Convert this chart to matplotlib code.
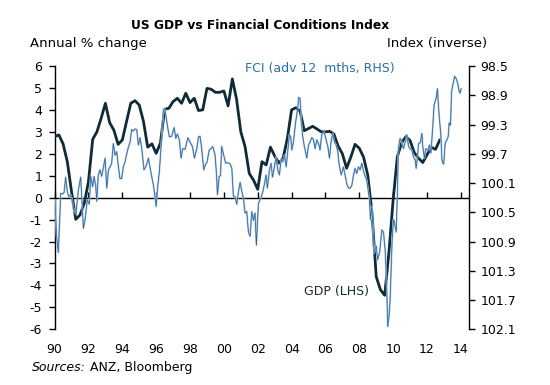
import numpy as np
import matplotlib.pyplot as plt

# US GDP, annual % change, quarterly from 1990Q1
gdp_start = 1990.0
gdp = [2.78, 2.86, 2.45, 1.64,
       0.27, -0.99, -0.79, -0.26,
       0.73, 2.66, 3.0, 3.62,
       4.3, 3.42, 3.08, 2.43,
       2.63, 3.47, 4.3, 4.42,
       4.22, 3.47, 2.3, 2.45,
       2.02, 2.48, 4.03, 4.07,
       4.38, 4.53, 4.3, 4.76,
       4.33, 4.53, 3.97, 4.0,
       4.98, 4.94, 4.8, 4.8,
       4.86, 4.18, 5.41, 4.48,
       3.0, 2.33, 1.1, 0.8,
       0.38, 1.64, 1.49, 2.3,
       1.9, 1.57, 1.8, 2.7,
       4.0, 4.1, 3.95, 3.05,
       3.15, 3.25, 3.13, 3.0,
       3.0, 3.02, 2.9, 2.35,
       2.0, 1.34, 1.85, 2.43,
       2.25, 1.85, 1.03, -0.7,
       -3.6, -4.2, -4.45, -2.5,
       -0.1, 1.87, 2.5, 2.78,
       2.6, 2.05, 1.8, 1.6,
       1.95, 2.3, 2.2, 2.62]
gdp_t = gdp_start + 0.25 * np.arange(len(gdp))

# Financial conditions index (advanced 12 months)
fci_t = [1990.02, 1990.12, 1990.22, 1990.30, 1990.36, 1990.48, 1990.56, 1990.65,
         1990.75, 1990.85, 1990.95, 1991.03, 1991.15, 1991.26, 1991.40, 1991.54,
         1991.70, 1991.80, 1991.93, 1992.05, 1992.13, 1992.25, 1992.33, 1992.43,
         1992.49, 1992.58, 1992.68, 1992.78, 1992.88, 1992.98, 1993.08, 1993.18,
         1993.27, 1993.37, 1993.47, 1993.57, 1993.67, 1993.77, 1993.86, 1993.96,
         1994.06, 1994.16, 1994.26, 1994.36, 1994.46, 1994.55, 1994.65, 1994.75,
         1994.85, 1994.95, 1995.05, 1995.15, 1995.28, 1995.40, 1995.54, 1995.70,
         1995.84, 1995.93, 1996.00, 1996.09, 1996.19, 1996.29, 1996.43, 1996.52,
         1996.66, 1996.78, 1996.92, 1997.06, 1997.16, 1997.25, 1997.37, 1997.47,
         1997.57, 1997.71, 1997.87, 1998.00, 1998.14, 1998.26, 1998.40, 1998.50,
         1998.59, 1998.69, 1998.81, 1998.91, 1999.01, 1999.13, 1999.24, 1999.34,
         1999.48, 1999.56, 1999.62, 1999.72, 1999.80, 1999.87, 1999.99, 2000.11,
         2000.23, 2000.37, 2000.47, 2000.56, 2000.66, 2000.76, 2000.86, 2000.96,
         2001.06, 2001.15, 2001.25, 2001.35, 2001.45, 2001.55, 2001.65, 2001.75,
         2001.84, 2001.92, 2002.04, 2002.10, 2002.20, 2002.30, 2002.40, 2002.49,
         2002.57, 2002.69, 2002.79, 2002.87, 2002.97, 2003.08, 2003.18, 2003.28,
         2003.38, 2003.48, 2003.58, 2003.68, 2003.77, 2003.87, 2003.95, 2004.01,
         2004.11, 2004.23, 2004.35, 2004.42, 2004.50, 2004.58, 2004.66, 2004.74,
         2004.84, 2004.90, 2005.00, 2005.09, 2005.19, 2005.29, 2005.39, 2005.49,
         2005.59, 2005.68, 2005.78, 2005.92, 2006.04, 2006.14, 2006.24, 2006.33,
         2006.43, 2006.53, 2006.63, 2006.73, 2006.81, 2006.93, 2007.06, 2007.16,
         2007.26, 2007.36, 2007.46, 2007.56, 2007.66, 2007.75, 2007.85, 2007.95,
         2008.05, 2008.15, 2008.25, 2008.35, 2008.44, 2008.54, 2008.60, 2008.66,
         2008.74, 2008.88, 2009.00, 2009.08, 2009.20, 2009.33, 2009.43, 2009.53,
         2009.62, 2009.68, 2009.76, 2009.82, 2009.88, 2009.94, 2010.02, 2010.08,
         2010.18, 2010.25, 2010.31, 2010.41, 2010.51, 2010.61, 2010.71, 2010.81,
         2010.91, 2011.00, 2011.10, 2011.20, 2011.30, 2011.36, 2011.44, 2011.50,
         2011.60, 2011.70, 2011.75, 2011.85, 2011.93, 2012.05, 2012.15, 2012.23,
         2012.33, 2012.42, 2012.54, 2012.62, 2012.68, 2012.74, 2012.82, 2012.88,
         2012.94, 2012.99, 2013.07, 2013.17, 2013.25, 2013.31, 2013.39, 2013.45,
         2013.53, 2013.63, 2013.72, 2013.82, 2013.90, 2013.96, 2014.02]
fci = [100.33, 100.84, 101.05, 100.60, 100.24, 100.25, 100.23, 100.02,
       100.22, 100.29, 100.26, 100.33, 100.49, 100.52, 100.20, 100.02,
       100.72, 100.60, 100.33, 100.39, 100.00, 100.15, 100.01, 100.14,
       100.35, 99.99, 99.92, 100.01, 99.89, 99.76, 100.17, 99.92,
       99.88, 99.83, 99.56, 99.72, 99.67, 99.88, 100.04, 100.04,
       99.88, 99.81, 99.70, 99.61, 99.54, 99.37, 99.39, 99.36,
       99.37, 99.58, 99.48, 99.63, 99.92, 99.87, 99.76, 99.97,
       100.13, 100.30, 100.42, 100.15, 99.94, 99.60, 99.10, 99.09,
       99.31, 99.47, 99.46, 99.34, 99.49, 99.43, 99.51, 99.76,
       99.63, 99.64, 99.48, 99.54, 99.60, 99.76, 99.63, 99.47,
       99.46, 99.63, 99.92, 99.85, 99.81, 99.65, 99.63, 99.60,
       99.72, 99.97, 100.26, 100.01, 100.00, 99.60, 99.72, 99.83,
       99.82, 99.84, 99.90, 100.28, 100.29, 100.39, 100.22, 100.09,
       100.22, 100.30, 100.51, 100.49, 100.77, 100.83, 100.49, 100.61,
       100.51, 100.95, 100.38, 100.35, 100.29, 100.22, 100.11, 99.99,
       100.17, 99.92, 99.83, 100.02, 99.90, 99.74, 99.92, 99.99,
       99.78, 99.81, 99.72, 99.88, 99.67, 99.44, 99.47, 99.65,
       99.54, 99.28, 99.10, 98.93, 98.94, 99.28, 99.47, 99.58,
       99.69, 99.76, 99.58, 99.54, 99.48, 99.50, 99.63, 99.51,
       99.56, 99.65, 99.44, 99.40, 99.51, 99.60, 99.76, 99.54,
       99.42, 99.54, 99.58, 99.67, 99.85, 99.99, 99.88, 99.99,
       100.11, 100.17, 100.17, 100.13, 99.99, 99.90, 99.97, 99.88,
       99.92, 99.83, 99.94, 100.01, 100.06, 100.22, 100.33, 100.60,
       100.42, 101.06, 100.96, 101.15, 101.05, 100.74, 100.77, 101.02,
       101.52, 102.06, 101.92, 101.70, 101.29, 100.88, 100.60, 100.65,
       100.77, 100.24, 99.63, 99.49, 99.54, 99.63, 99.54, 99.44,
       99.60, 99.63, 99.65, 99.74, 99.78, 99.90, 99.74, 99.56,
       99.55, 99.42, 99.60, 99.76, 99.63, 99.65, 99.58, 99.69,
       99.37, 99.03, 98.94, 98.81, 99.06, 99.24, 99.44, 99.78,
       99.83, 99.84, 99.56, 99.51, 99.47, 99.28, 99.31, 98.85,
       98.76, 98.64, 98.67, 98.74, 98.85, 98.87, 98.81]

year_ticks = [1990, 1992, 1994, 1996, 1998, 2000, 2002, 2004, 2006, 2008, 2010, 2012, 2014]
year_labels = ['90', '92', '94', '96', '98', '00', '02', '04', '06', '08', '10', '12', '14']
rhs_ticks = [98.5, 98.9, 99.3, 99.7, 100.1, 100.5, 100.9, 101.3, 101.7, 102.1]

gdp_col = '#0f2b36'
fci_dark = '#22639c'
fci_light = '#a9c0d8'

fig = plt.figure(figsize=(5.5, 3.85), dpi=100)
ax = fig.add_axes([0.0993, 0.1447, 0.754, 0.6839])

ax.plot(gdp_t, gdp, color=gdp_col, lw=2.0, solid_joinstyle='round', zorder=3)
ax.set_xlim(1990, 2014.5)
ax.set_ylim(-6, 6)
ax.set_yticks(range(-6, 7))
ax.set_yticklabels([str(v) for v in range(-6, 7)])
ax.spines['top'].set_visible(False)
ax.spines['right'].set_visible(False)
ax.spines['bottom'].set_position(('data', 0))
ax.set_xticks(year_ticks)
ax.tick_params(axis='x', direction='in', length=4, width=1, labelbottom=False)
ax.tick_params(axis='y', direction='out', length=4, width=1, labelsize=9, pad=5)
for s in ['left', 'bottom']:
    ax.spines[s].set_linewidth(1.0)

sec = ax.secondary_xaxis('bottom')
sec.set_xticks(year_ticks)
sec.set_xticklabels(year_labels)
sec.spines['bottom'].set_visible(False)
sec.tick_params(length=0, pad=10, labelsize=9)

ax2 = ax.twinx()
ax2.plot(fci_t, fci, color=fci_light, lw=1.3)
ax2.plot(fci_t, fci, color=fci_dark, lw=0.5)
ax2.set_ylim(102.1, 98.5)
ax2.set_yticks(rhs_ticks)
ax2.set_yticklabels([f'{v:.1f}' for v in rhs_ticks])
for s in ['top', 'left', 'bottom']:
    ax2.spines[s].set_visible(False)
ax2.spines['right'].set_linewidth(1.0)
ax2.tick_params(axis='y', direction='out', length=4, width=1, labelsize=9, pad=4)

fig.text(0.473, 0.935, 'US GDP vs Financial Conditions Index', ha='center', va='center',
         fontsize=8.8, fontweight='bold')
fig.text(0.0545, 0.886, 'Annual % change', ha='left', va='center', fontsize=9.5)
fig.text(0.885, 0.886, 'Index (inverse)', ha='right', va='center', fontsize=9.5)
fig.text(0.445, 0.823, 'FCI (adv 12  mths, RHS)', ha='left', va='center',
         fontsize=9, color='#2a6fa8')
fig.text(0.553, 0.244, 'GDP (LHS)', ha='left', va='center', fontsize=9, color='#1a2a33')
fig.text(0.058, 0.045, 'Sources:', ha='left', va='center', fontsize=9, style='italic')
fig.text(0.163, 0.045, 'ANZ, Bloomberg', ha='left', va='center', fontsize=9)

fig.savefig('out.png', dpi=100)
